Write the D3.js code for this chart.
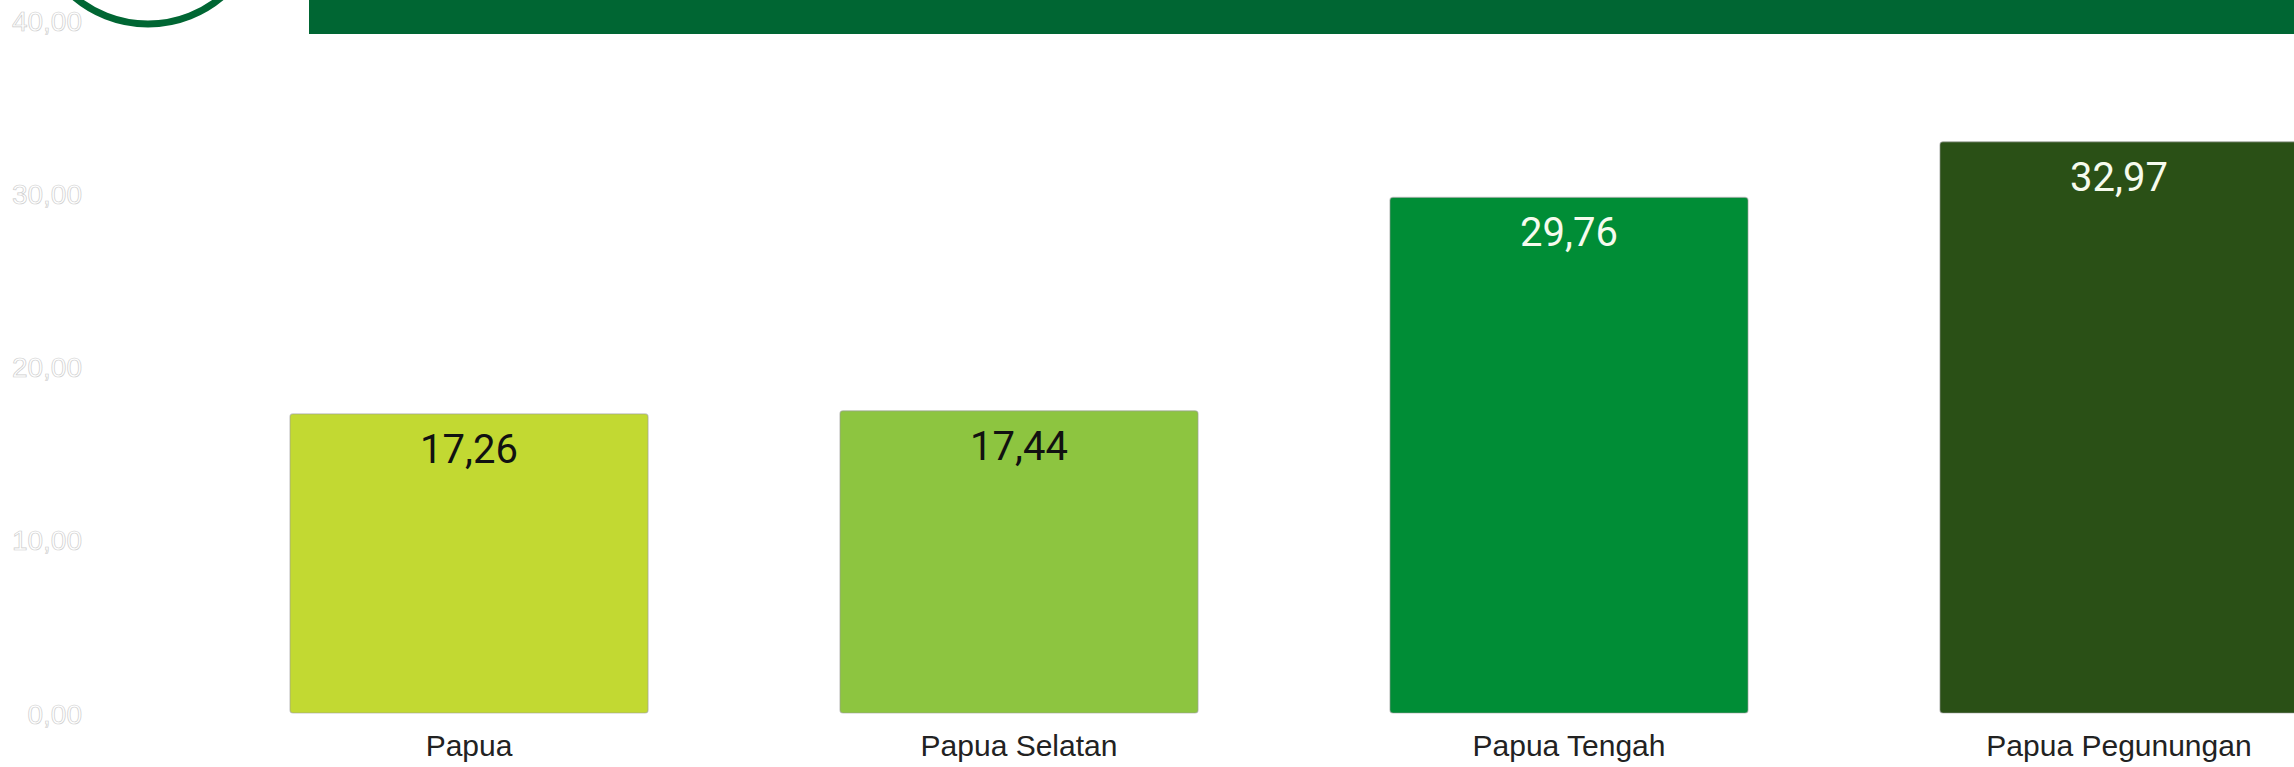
<!DOCTYPE html>
<html>
<head>
<meta charset="utf-8">
<script src="https://cdn.jsdelivr.net/npm/d3@7"></script>
<style>
  body { margin: 0; background: #fff; }
  svg { display: block; }
</style>
</head>
<body>
<div id="chart-area"></div>
<script>
/*
*    bar chart - provinsi papua
*/

var categories = ["Papua", "Papua Selatan", "Papua Tengah", "Papua Pegunungan"];
var values = [17.26, 17.44, 29.76, 32.97];
var yTicks = [0, 10, 20, 30, 40];

var barColors = ["#c2d932", "#8dc540", "#008d36", "#2a5016"];
var labelColors = ["#111111", "#111111", "#f6fbee", "#f6fbee"];

var width = 2294;
var height = 767;

var locale = d3.formatLocale({decimal: ",", thousands: ".", grouping: [3], currency: ["", ""]});
var fmt = locale.format(".2f");

var svg = d3.select("#chart-area")
    .append("svg")
    .attr("width", width)
    .attr("height", height);

// header decoration
svg.append("rect")
    .attr("x", 309)
    .attr("y", 0)
    .attr("width", width - 309)
    .attr("height", 34)
    .attr("fill", "#006633");

svg.append("circle")
    .attr("cx", 148)
    .attr("cy", -90)
    .attr("r", 114)
    .attr("fill", "none")
    .attr("stroke", "#006633")
    .attr("stroke-width", 7);

var x = d3.scaleBand()
    .domain(categories)
    .range([290, 2298])
    .paddingInner(0.349)
    .paddingOuter(0);

var y = d3.scaleLinear()
    .domain([0, 40])
    .range([713, 20]);

// y axis (hollow tick labels)
var yAxisCall = d3.axisLeft(y)
    .tickValues(yTicks)
    .tickSize(0)
    .tickFormat(function(d) { return fmt(d); });

var yAxisGroup = svg.append("g")
    .attr("class", "y axis")
    .attr("transform", "translate(82, 0)")
    .call(yAxisCall);

yAxisGroup.select(".domain").remove();
yAxisGroup.selectAll("text")
    .attr("x", 0)
    .attr("dy", "0.36em")
    .attr("font-family", "Liberation Sans, Arial, sans-serif")
    .attr("font-size", "28px")
    .attr("fill", "#ffffff")
    .attr("stroke", "#cdcdcd")
    .attr("stroke-width", 0.7);

// bars
svg.selectAll("rect.bar")
    .data(values)
    .enter()
    .append("rect")
    .attr("class", "bar")
    .attr("x", function(d, i) { return x(categories[i]); })
    .attr("y", function(d) { return y(d); })
    .attr("width", x.bandwidth())
    .attr("height", function(d) { return y(0) - y(d); })
    .attr("rx", 3)
    .attr("fill", function(d, i) { return barColors[i]; })
    .attr("stroke", "#9a9a9a")
    .attr("stroke-opacity", 0.55)
    .attr("stroke-width", 1.2);

// value labels
svg.selectAll("text.value")
    .data(values)
    .enter()
    .append("text")
    .attr("class", "value")
    .attr("x", function(d, i) { return x(categories[i]) + x.bandwidth() / 2; })
    .attr("y", function(d) { return y(d) + 49; })
    .attr("text-anchor", "middle")
    .attr("font-family", "Roboto, sans-serif")
    .attr("font-size", "40px")
    .attr("fill", function(d, i) { return labelColors[i]; })
    .text(function(d) { return fmt(d); });

// x axis labels
var xAxisCall = d3.axisBottom(x).tickSize(0);

var xAxisGroup = svg.append("g")
    .attr("class", "x axis")
    .attr("transform", "translate(0, 713)")
    .call(xAxisCall);

xAxisGroup.select(".domain").remove();
xAxisGroup.selectAll("text")
    .attr("y", 43)
    .attr("dy", 0)
    .attr("font-family", "Liberation Sans, Arial, sans-serif")
    .attr("font-size", "30px")
    .attr("fill", "#222222");
</script>
</body>
</html>
